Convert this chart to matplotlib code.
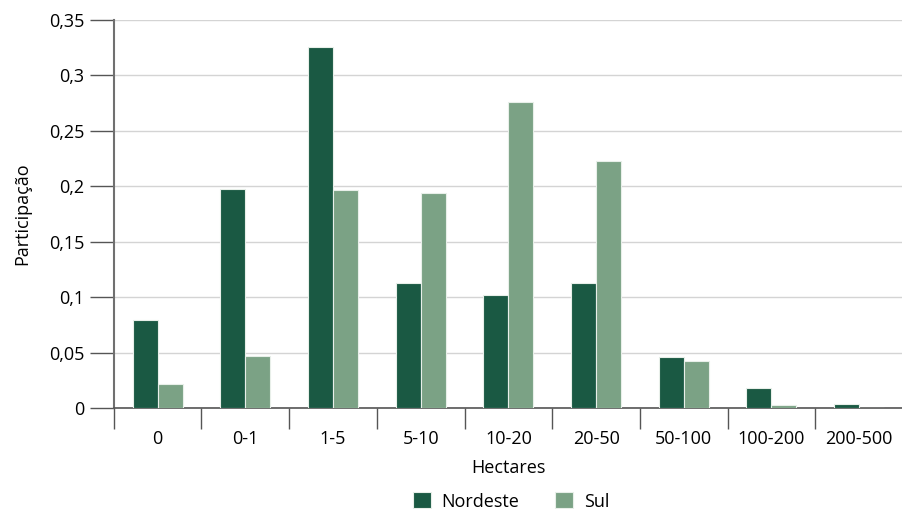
import numpy as np
import matplotlib.pyplot as plt
from matplotlib.ticker import FuncFormatter, MultipleLocator, FixedLocator

plt.rcParams['font.family'] = ['Open Sans', 'DejaVu Sans']

categorias = ['0', '0-1', '1-5', '5-10', '10-20', '20-50', '50-100', '100-200', '200-500']
nordeste = [0.079, 0.198, 0.326, 0.113, 0.102, 0.113, 0.046, 0.018, 0.004]
sul = [0.022, 0.047, 0.197, 0.194, 0.276, 0.223, 0.042, 0.003, 0.0]

cor_ne = '#1a5943'
cor_sul = '#7ba285'
fs = 13

fig = plt.figure(figsize=(9.03, 5.09), dpi=100)
ax = fig.add_axes([0.126, 0.1984, 0.874, 0.7623])

x = np.arange(len(categorias)) + 0.5
w = 0.285
ax.bar(x - w/2, nordeste, w, color=cor_ne, edgecolor='#e8efe9', linewidth=0.8, label='Nordeste', zorder=3)
ax.bar(x + w/2, sul, w, color=cor_sul, edgecolor='#e8efe9', linewidth=0.8, label='Sul', zorder=3)

ax.set_xlim(0, len(categorias))
ax.set_ylim(0, 0.35)
ax.yaxis.set_major_locator(MultipleLocator(0.05))
ax.yaxis.set_major_formatter(FuncFormatter(lambda v, p: ('%g' % round(v, 2)).replace('.', ',')))
ax.grid(axis='y', color='#d4d4d4', linewidth=1, zorder=0)

ax.xaxis.set_major_locator(FixedLocator(np.arange(len(categorias) + 1)))
ax.xaxis.set_major_formatter(FuncFormatter(lambda v, p: ''))
ax.xaxis.set_minor_locator(FixedLocator(x))
ax.set_xticklabels(categorias, minor=True)
ax.tick_params(axis='x', which='major', length=15, width=1, color='#555555')
ax.tick_params(axis='x', which='minor', length=0, pad=16, labelsize=fs)
ax.tick_params(axis='y', length=17, width=1, color='#555555', labelsize=fs, pad=4)

for s in ['top', 'right']:
    ax.spines[s].set_visible(False)
ax.spines['left'].set_color('#707070')
ax.spines['left'].set_linewidth(1.5)
ax.spines['bottom'].set_color('#555555')
ax.spines['bottom'].set_linewidth(1.2)

ax.set_xlabel('Hectares', fontsize=fs, labelpad=8)
ax.set_ylabel('Participação', fontsize=fs, labelpad=13)

fig.legend(loc='lower center', bbox_to_anchor=(0.566, -0.035), ncol=2, frameon=False,
           fontsize=fs, handlelength=1.0, handleheight=1.0, columnspacing=2.0, handletextpad=0.6)

fig.savefig('out.png', dpi=100)
